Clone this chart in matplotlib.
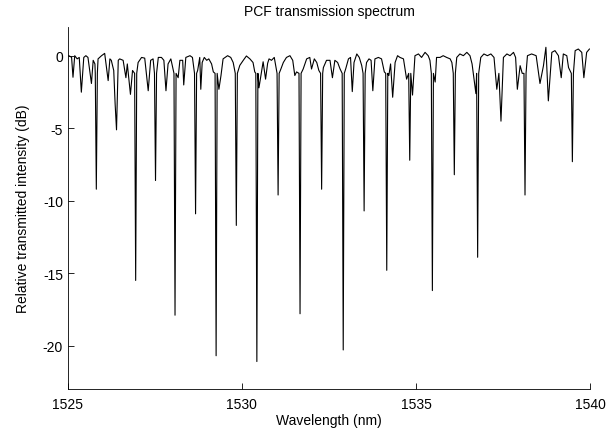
import numpy as np
import matplotlib
matplotlib.use('Agg')
import matplotlib.pyplot as plt

plt.rcParams['font.family'] = ['Liberation Sans', 'DejaVu Sans']
plt.rcParams['axes.unicode_minus'] = False

# deep notches of the spectrum (wavelength nm, relative intensity dB)
notch_nm = [1525.82, 1526.40, 1526.95, 1527.52, 1528.08, 1528.67, 1529.26, 1529.84,
            1530.43, 1531.04, 1531.67, 1532.29, 1532.91, 1533.51, 1534.16, 1534.82,
            1535.47, 1536.10, 1536.77, 1537.44, 1538.13, 1538.80, 1539.49]
notch_db = [-9.2, -5.1, -15.5, -8.6, -17.9, -10.9, -20.7, -11.7,
            -21.1, -9.6, -17.8, -9.2, -20.3, -10.7, -14.8, -7.2,
            -16.2, -8.2, -13.9, -4.5, -9.6, -3.1, -7.3]
# notch walls: half width (nm) where they leave the baseline, and that level (dB)
wall_nm = 0.03
wall_db = -1.2

# ripple on the baseline, small dips included
ripple_nm = [1525.03, 1525.11, 1525.15, 1525.20, 1525.27, 1525.33, 1525.39, 1525.46, 1525.52,
             1525.58, 1525.68, 1525.73, 1525.78, 1525.87, 1525.97, 1526.06, 1526.16, 1526.21,
             1526.25, 1526.32, 1526.36, 1526.45, 1526.49, 1526.59, 1526.67, 1526.71, 1526.80,
             1526.86, 1527.02, 1527.12, 1527.21, 1527.31, 1527.38, 1527.45, 1527.60, 1527.69,
             1527.76, 1527.82, 1527.88, 1527.96, 1528.17, 1528.22, 1528.30, 1528.33, 1528.39,
             1528.51, 1528.58, 1528.73, 1528.79, 1528.82, 1528.86, 1528.92, 1528.99, 1529.05,
             1529.13, 1529.18, 1529.34, 1529.40, 1529.46, 1529.59, 1529.68, 1529.75, 1529.94,
             1530.04, 1530.13, 1530.23, 1530.32, 1530.37, 1530.49, 1530.61, 1530.68, 1530.74,
             1530.78, 1530.85, 1530.93, 1530.98, 1531.12, 1531.19, 1531.28, 1531.38, 1531.46,
             1531.52, 1531.57, 1531.76, 1531.86, 1531.95, 1532.00, 1532.08, 1532.15, 1532.21,
             1532.34, 1532.43, 1532.53, 1532.60, 1532.67, 1532.75, 1532.82, 1532.98, 1533.06,
             1533.12, 1533.17, 1533.22, 1533.30, 1533.37, 1533.44, 1533.58, 1533.65, 1533.71,
             1533.76, 1533.82, 1533.92, 1534.01, 1534.09, 1534.22, 1534.27, 1534.33, 1534.40,
             1534.47, 1534.54, 1534.64, 1534.73, 1534.90, 1534.97, 1535.07, 1535.16, 1535.26,
             1535.35, 1535.40, 1535.55, 1535.59, 1535.69, 1535.78, 1535.88, 1535.98, 1536.03,
             1536.17, 1536.26, 1536.36, 1536.46, 1536.55, 1536.61, 1536.72, 1536.86, 1536.95,
             1537.05, 1537.15, 1537.24, 1537.32, 1537.38, 1537.51, 1537.61, 1537.70, 1537.80,
             1537.86, 1537.91, 1537.99, 1538.05, 1538.20, 1538.32, 1538.45, 1538.56, 1538.66,
             1538.73, 1538.90, 1538.99, 1539.09, 1539.17, 1539.23, 1539.33, 1539.38, 1539.57,
             1539.66, 1539.76, 1539.82, 1539.90, 1539.98]
ripple_db = [0.02, -0.09, -1.47, 0.02, -0.2, -0.1, -2.5, -0.1, 0.02,
             -0.1, -1.9, -0.3, -0.55, -0.2, 0.02, 0.18, -1.7, -0.2,
             -0.3, -1.0, -3.3, -0.3, -0.2, -0.3, -1.5, -0.55, -2.65,
             -1.0, -0.45, -0.1, -0.15, -2.4, -0.3, -0.2, -0.1, -0.1,
             -0.3, -2.4, -0.55, -0.2, -1.5, -0.3, -0.3, -2.0, -0.1,
             0.02, -0.1, -1.0, -0.1, -2.3, -0.45, -0.1, -0.3, -0.2,
             -0.55, -1.1, -2.3, -1.35, -0.2, 0.02, -0.1, -0.45, -0.65,
             -0.3, 0.0, -0.2, -0.45, -1.1, -2.2, -0.4, -1.6, -0.5,
             -0.2, -0.3, -0.1, -0.8, -0.9, -0.45, -0.1, 0.02, -0.3,
             -1.35, -1.1, -0.9, -0.2, -0.1, -0.9, -0.2, -0.45, -1.0,
             -0.8, -0.3, -0.3, -1.5, -0.3, -0.45, -0.9, -0.9, -0.2,
             -0.1, -2.46, -0.45, 0.14, -0.1, -0.65, -0.45, -0.2, -0.3,
             -2.4, -0.2, -0.1, -0.2, -1.1, -1.35, -0.55, -2.85, -0.45,
             0.02, -0.1, -0.2, -1.6, -2.7, 0.02, 0.14, -0.1, 0.25,
             0.02, -0.3, -1.8, -0.1, -0.1, 0.02, -0.1, -0.2, -0.45,
             -0.1, 0.14, 0.02, 0.25, 0.02, -0.55, -2.6, -0.1, 0.14,
             0.02, 0.14, -0.1, -2.3, -1.2, -0.1, 0.14, 0.02, 0.25,
             -0.1, -2.3, -0.67, -1.2, 0.02, 0.14, 0.02, -1.9, -0.67,
             0.6, 0.25, 0.37, 0.02, -1.5, 0.14, 0.02, -0.8, 0.37,
             0.48, 0.25, -1.5, 0.25, 0.48]

c = np.array(notch_nm)
d = np.array(notch_db)
deep = d < -6
wall_x = np.concatenate([c[deep] - wall_nm, c[deep] + wall_nm])
wl = np.concatenate([c, wall_x, ripple_nm])
db = np.concatenate([d, np.full(wall_x.size, wall_db), ripple_db])
order = np.argsort(wl)
wl, db = wl[order], db[order]

fig = plt.figure(figsize=(6.16, 4.31), dpi=100)
ax = fig.add_axes([0.110, 0.095, 0.848, 0.840])
ax.plot(wl, db, color='black', linewidth=0.8)

ax.set_xlim(1525, 1540)
ax.set_ylim(-23, 2)
ax.set_xticks([1525, 1530, 1535, 1540])
ax.set_yticks([-20, -15, -10, -5, 0])
ax.spines['top'].set_visible(False)
ax.spines['right'].set_visible(False)
for s in ('left', 'bottom'):
    ax.spines[s].set_linewidth(0.6)
ax.tick_params(direction='in', length=4, width=0.6, labelsize=10)
ax.tick_params(axis='x', pad=6)

ax.set_title('PCF transmission spectrum', fontsize=10, pad=9)
ax.set_xlabel('Wavelength (nm)', fontsize=10, labelpad=1)
ax.set_ylabel('Relative transmitted intensity (dB)', fontsize=10, labelpad=9)

fig.savefig('out.png', dpi=100)
